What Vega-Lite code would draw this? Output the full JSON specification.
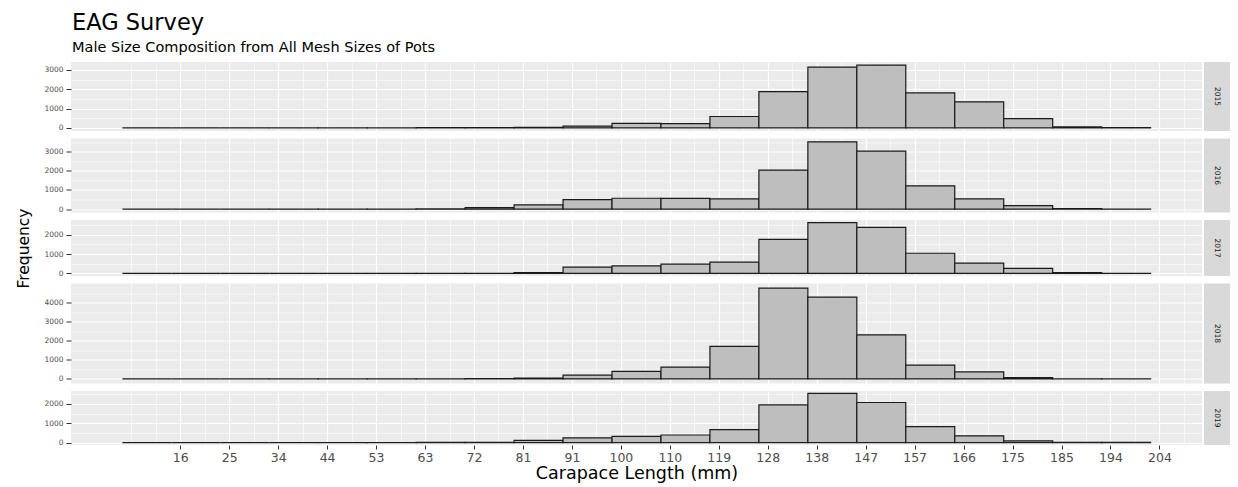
{
  "$schema": "https://vega.github.io/schema/vega-lite/v6.json",
  "padding": {"left": 16, "top": 12, "right": 4, "bottom": 2},
  "title": {
    "text": "EAG Survey",
    "subtitle": "Male Size Composition from All Mesh Sizes of Pots",
    "anchor": "start",
    "frame": "group",
    "font": "DejaVu Sans",
    "fontSize": 22.5,
    "fontWeight": "normal",
    "color": "#000000",
    "subtitleFont": "DejaVu Sans",
    "subtitleFontSize": 14.5,
    "subtitleColor": "#000000",
    "subtitlePadding": 6,
    "offset": 8,
    "dx": 1
  },
  "data": {"values": [
    {"year":2015,"bin_start":4.9,"bin_end":14.3,"n":0},{"year":2015,"bin_start":14.3,"bin_end":23.7,"n":0},{"year":2015,"bin_start":23.7,"bin_end":33.1,"n":0},{"year":2015,"bin_start":33.1,"bin_end":42.5,"n":2},{"year":2015,"bin_start":42.5,"bin_end":51.9,"n":3},{"year":2015,"bin_start":51.9,"bin_end":61.3,"n":5},{"year":2015,"bin_start":61.3,"bin_end":70.7,"n":10},{"year":2015,"bin_start":70.7,"bin_end":80.1,"n":20},{"year":2015,"bin_start":80.1,"bin_end":89.5,"n":30},{"year":2015,"bin_start":89.5,"bin_end":98.9,"n":90},{"year":2015,"bin_start":98.9,"bin_end":108.3,"n":230},{"year":2015,"bin_start":108.3,"bin_end":117.7,"n":220},{"year":2015,"bin_start":117.7,"bin_end":127.1,"n":590},{"year":2015,"bin_start":127.1,"bin_end":136.5,"n":1880},{"year":2015,"bin_start":136.5,"bin_end":145.9,"n":3150},{"year":2015,"bin_start":145.9,"bin_end":155.3,"n":3250},{"year":2015,"bin_start":155.3,"bin_end":164.7,"n":1810},{"year":2015,"bin_start":164.7,"bin_end":174.1,"n":1350},{"year":2015,"bin_start":174.1,"bin_end":183.5,"n":480},{"year":2015,"bin_start":183.5,"bin_end":192.9,"n":50},{"year":2015,"bin_start":192.9,"bin_end":202.3,"n":10},
    {"year":2016,"bin_start":4.9,"bin_end":14.3,"n":0},{"year":2016,"bin_start":14.3,"bin_end":23.7,"n":0},{"year":2016,"bin_start":23.7,"bin_end":33.1,"n":0},{"year":2016,"bin_start":33.1,"bin_end":42.5,"n":2},{"year":2016,"bin_start":42.5,"bin_end":51.9,"n":3},{"year":2016,"bin_start":51.9,"bin_end":61.3,"n":5},{"year":2016,"bin_start":61.3,"bin_end":70.7,"n":10},{"year":2016,"bin_start":70.7,"bin_end":80.1,"n":80},{"year":2016,"bin_start":80.1,"bin_end":89.5,"n":220},{"year":2016,"bin_start":89.5,"bin_end":98.9,"n":500},{"year":2016,"bin_start":98.9,"bin_end":108.3,"n":570},{"year":2016,"bin_start":108.3,"bin_end":117.7,"n":560},{"year":2016,"bin_start":117.7,"bin_end":127.1,"n":540},{"year":2016,"bin_start":127.1,"bin_end":136.5,"n":2040},{"year":2016,"bin_start":136.5,"bin_end":145.9,"n":3515},{"year":2016,"bin_start":145.9,"bin_end":155.3,"n":3030},{"year":2016,"bin_start":155.3,"bin_end":164.7,"n":1220},{"year":2016,"bin_start":164.7,"bin_end":174.1,"n":540},{"year":2016,"bin_start":174.1,"bin_end":183.5,"n":180},{"year":2016,"bin_start":183.5,"bin_end":192.9,"n":30},{"year":2016,"bin_start":192.9,"bin_end":202.3,"n":5},
    {"year":2017,"bin_start":4.9,"bin_end":14.3,"n":0},{"year":2017,"bin_start":14.3,"bin_end":23.7,"n":0},{"year":2017,"bin_start":23.7,"bin_end":33.1,"n":0},{"year":2017,"bin_start":33.1,"bin_end":42.5,"n":0},{"year":2017,"bin_start":42.5,"bin_end":51.9,"n":0},{"year":2017,"bin_start":51.9,"bin_end":61.3,"n":2},{"year":2017,"bin_start":61.3,"bin_end":70.7,"n":5},{"year":2017,"bin_start":70.7,"bin_end":80.1,"n":10},{"year":2017,"bin_start":80.1,"bin_end":89.5,"n":50},{"year":2017,"bin_start":89.5,"bin_end":98.9,"n":330},{"year":2017,"bin_start":98.9,"bin_end":108.3,"n":395},{"year":2017,"bin_start":108.3,"bin_end":117.7,"n":480},{"year":2017,"bin_start":117.7,"bin_end":127.1,"n":585},{"year":2017,"bin_start":127.1,"bin_end":136.5,"n":1765},{"year":2017,"bin_start":136.5,"bin_end":145.9,"n":2635},{"year":2017,"bin_start":145.9,"bin_end":155.3,"n":2380},{"year":2017,"bin_start":155.3,"bin_end":164.7,"n":1045},{"year":2017,"bin_start":164.7,"bin_end":174.1,"n":535},{"year":2017,"bin_start":174.1,"bin_end":183.5,"n":260},{"year":2017,"bin_start":183.5,"bin_end":192.9,"n":50},{"year":2017,"bin_start":192.9,"bin_end":202.3,"n":5},
    {"year":2018,"bin_start":4.9,"bin_end":14.3,"n":0},{"year":2018,"bin_start":14.3,"bin_end":23.7,"n":0},{"year":2018,"bin_start":23.7,"bin_end":33.1,"n":0},{"year":2018,"bin_start":33.1,"bin_end":42.5,"n":2},{"year":2018,"bin_start":42.5,"bin_end":51.9,"n":3},{"year":2018,"bin_start":51.9,"bin_end":61.3,"n":5},{"year":2018,"bin_start":61.3,"bin_end":70.7,"n":10},{"year":2018,"bin_start":70.7,"bin_end":80.1,"n":25},{"year":2018,"bin_start":80.1,"bin_end":89.5,"n":40},{"year":2018,"bin_start":89.5,"bin_end":98.9,"n":200},{"year":2018,"bin_start":98.9,"bin_end":108.3,"n":395},{"year":2018,"bin_start":108.3,"bin_end":117.7,"n":625},{"year":2018,"bin_start":117.7,"bin_end":127.1,"n":1705},{"year":2018,"bin_start":127.1,"bin_end":136.5,"n":4770},{"year":2018,"bin_start":136.5,"bin_end":145.9,"n":4290},{"year":2018,"bin_start":145.9,"bin_end":155.3,"n":2315},{"year":2018,"bin_start":155.3,"bin_end":164.7,"n":730},{"year":2018,"bin_start":164.7,"bin_end":174.1,"n":375},{"year":2018,"bin_start":174.1,"bin_end":183.5,"n":70},{"year":2018,"bin_start":183.5,"bin_end":192.9,"n":5},{"year":2018,"bin_start":192.9,"bin_end":202.3,"n":3},
    {"year":2019,"bin_start":4.9,"bin_end":14.3,"n":0},{"year":2019,"bin_start":14.3,"bin_end":23.7,"n":0},{"year":2019,"bin_start":23.7,"bin_end":33.1,"n":0},{"year":2019,"bin_start":33.1,"bin_end":42.5,"n":0},{"year":2019,"bin_start":42.5,"bin_end":51.9,"n":2},{"year":2019,"bin_start":51.9,"bin_end":61.3,"n":3},{"year":2019,"bin_start":61.3,"bin_end":70.7,"n":5},{"year":2019,"bin_start":70.7,"bin_end":80.1,"n":10},{"year":2019,"bin_start":80.1,"bin_end":89.5,"n":110},{"year":2019,"bin_start":89.5,"bin_end":98.9,"n":245},{"year":2019,"bin_start":98.9,"bin_end":108.3,"n":315},{"year":2019,"bin_start":108.3,"bin_end":117.7,"n":390},{"year":2019,"bin_start":117.7,"bin_end":127.1,"n":670},{"year":2019,"bin_start":127.1,"bin_end":136.5,"n":1950},{"year":2019,"bin_start":136.5,"bin_end":145.9,"n":2545},{"year":2019,"bin_start":145.9,"bin_end":155.3,"n":2075},{"year":2019,"bin_start":155.3,"bin_end":164.7,"n":825},{"year":2019,"bin_start":164.7,"bin_end":174.1,"n":350},{"year":2019,"bin_start":174.1,"bin_end":183.5,"n":90},{"year":2019,"bin_start":183.5,"bin_end":192.9,"n":10},{"year":2019,"bin_start":192.9,"bin_end":202.3,"n":5}
  ]},
  "hconcat": [
    {
      "spacing": 7.5,
      "bounds": "flush",
      "vconcat": [
        {
          "width": 1131, "height": 69,
          "view": {"fill": "#EBEBEB", "stroke": null},
          "transform": [{"filter": "datum.year == 2015"}],
          "layer": [
            {"mark": {"type": "bar", "opacity": 0},
             "encoding": {
               "x": {"field": "bin_start", "type": "quantitative", "scale": {"domain": [-4.97, 212.17], "nice": false, "zero": false},
                     "axis": {"orient": "bottom", "values": [6.6,11.3,20.7,30.1,39.5,48.9,58.3,67.7,77.1,86.5,95.9,105.3,114.7,124.1,133.5,142.9,152.3,161.7,171.1,180.5,189.9,199.3,208.7], "grid": true, "gridColor": "#FFFFFF", "gridWidth": 0.6, "labels": false, "ticks": false, "domain": false, "title": null}},
               "x2": {"field": "bin_end"},
               "y": {"field": "n", "type": "quantitative", "scale": {"domain": [-162.5, 3412.5], "nice": false, "zero": false},
                     "axis": {"orient": "left", "values": [500, 1500, 2500], "grid": true, "gridColor": "#FFFFFF", "gridWidth": 0.6, "labels": false, "ticks": false, "domain": false, "title": null}},
               "y2": {"datum": 0}}},
            {"mark": {"type": "bar", "fill": "#BEBEBE", "stroke": "#1A1A1A", "strokeWidth": 1.2},
             "encoding": {
               "x": {"field": "bin_start", "type": "quantitative",
                     "axis": {"orient": "bottom", "values": [16,25.4,34.8,44.2,53.6,63,72.4,81.8,91.2,100.6,110,119.4,128.8,138.2,147.6,157,166.4,175.8,185.2,194.6,204], "grid": true, "gridColor": "#FFFFFF", "gridWidth": 1.2, "labels": false, "ticks": false, "domain": false, "title": null}},
               "x2": {"field": "bin_end"},
               "y": {"field": "n", "type": "quantitative",
                     "axis": {"orient": "left", "values": [0, 1000, 2000, 3000], "format": "d", "grid": true, "gridColor": "#FFFFFF", "gridWidth": 1.2, "labelFont": "DejaVu Sans", "labelFontSize": 7.5, "labelColor": "#4D4D4D", "tickColor": "#333333", "tickSize": 5, "labelPadding": 3, "domain": false, "title": null}},
               "y2": {"datum": 0}}}
          ],
          "resolve": {"axis": {"x": "independent", "y": "independent"}}
        },
        {
          "width": 1131, "height": 74,
          "view": {"fill": "#EBEBEB", "stroke": null},
          "transform": [{"filter": "datum.year == 2016"}],
          "layer": [
            {"mark": {"type": "bar", "opacity": 0},
             "encoding": {
               "x": {"field": "bin_start", "type": "quantitative", "scale": {"domain": [-4.97, 212.17], "nice": false, "zero": false},
                     "axis": {"orient": "bottom", "values": [6.6,11.3,20.7,30.1,39.5,48.9,58.3,67.7,77.1,86.5,95.9,105.3,114.7,124.1,133.5,142.9,152.3,161.7,171.1,180.5,189.9,199.3,208.7], "grid": true, "gridColor": "#FFFFFF", "gridWidth": 0.6, "labels": false, "ticks": false, "domain": false, "title": null}},
               "x2": {"field": "bin_end"},
               "y": {"field": "n", "type": "quantitative", "scale": {"domain": [-175.75, 3690.75], "nice": false, "zero": false},
                     "axis": {"orient": "left", "values": [500, 1500, 2500, 3500], "grid": true, "gridColor": "#FFFFFF", "gridWidth": 0.6, "labels": false, "ticks": false, "domain": false, "title": null}},
               "y2": {"datum": 0}}},
            {"mark": {"type": "bar", "fill": "#BEBEBE", "stroke": "#1A1A1A", "strokeWidth": 1.2},
             "encoding": {
               "x": {"field": "bin_start", "type": "quantitative",
                     "axis": {"orient": "bottom", "values": [16,25.4,34.8,44.2,53.6,63,72.4,81.8,91.2,100.6,110,119.4,128.8,138.2,147.6,157,166.4,175.8,185.2,194.6,204], "grid": true, "gridColor": "#FFFFFF", "gridWidth": 1.2, "labels": false, "ticks": false, "domain": false, "title": null}},
               "x2": {"field": "bin_end"},
               "y": {"field": "n", "type": "quantitative",
                     "axis": {"orient": "left", "values": [0, 1000, 2000, 3000], "format": "d", "grid": true, "gridColor": "#FFFFFF", "gridWidth": 1.2, "labelFont": "DejaVu Sans", "labelFontSize": 7.5, "labelColor": "#4D4D4D", "tickColor": "#333333", "tickSize": 5, "labelPadding": 3, "domain": false, "title": null}},
               "y2": {"datum": 0}}}
          ],
          "resolve": {"axis": {"x": "independent", "y": "independent"}}
        },
        {
          "width": 1131, "height": 56,
          "view": {"fill": "#EBEBEB", "stroke": null},
          "transform": [{"filter": "datum.year == 2017"}],
          "layer": [
            {"mark": {"type": "bar", "opacity": 0},
             "encoding": {
               "x": {"field": "bin_start", "type": "quantitative", "scale": {"domain": [-4.97, 212.17], "nice": false, "zero": false},
                     "axis": {"orient": "bottom", "values": [6.6,11.3,20.7,30.1,39.5,48.9,58.3,67.7,77.1,86.5,95.9,105.3,114.7,124.1,133.5,142.9,152.3,161.7,171.1,180.5,189.9,199.3,208.7], "grid": true, "gridColor": "#FFFFFF", "gridWidth": 0.6, "labels": false, "ticks": false, "domain": false, "title": null}},
               "x2": {"field": "bin_end"},
               "y": {"field": "n", "type": "quantitative", "scale": {"domain": [-131.75, 2766.75], "nice": false, "zero": false},
                     "axis": {"orient": "left", "values": [500, 1500, 2500], "grid": true, "gridColor": "#FFFFFF", "gridWidth": 0.6, "labels": false, "ticks": false, "domain": false, "title": null}},
               "y2": {"datum": 0}}},
            {"mark": {"type": "bar", "fill": "#BEBEBE", "stroke": "#1A1A1A", "strokeWidth": 1.2},
             "encoding": {
               "x": {"field": "bin_start", "type": "quantitative",
                     "axis": {"orient": "bottom", "values": [16,25.4,34.8,44.2,53.6,63,72.4,81.8,91.2,100.6,110,119.4,128.8,138.2,147.6,157,166.4,175.8,185.2,194.6,204], "grid": true, "gridColor": "#FFFFFF", "gridWidth": 1.2, "labels": false, "ticks": false, "domain": false, "title": null}},
               "x2": {"field": "bin_end"},
               "y": {"field": "n", "type": "quantitative",
                     "axis": {"orient": "left", "values": [0, 1000, 2000], "format": "d", "grid": true, "gridColor": "#FFFFFF", "gridWidth": 1.2, "labelFont": "DejaVu Sans", "labelFontSize": 7.5, "labelColor": "#4D4D4D", "tickColor": "#333333", "tickSize": 5, "labelPadding": 3, "domain": false,
                              "title": "Frequency", "titleFont": "DejaVu Sans", "titleFontSize": 15.5, "titleFontWeight": "normal", "titleColor": "#000000", "titlePadding": 12}},
               "y2": {"datum": 0}}}
          ],
          "resolve": {"axis": {"x": "independent", "y": "independent"}}
        },
        {
          "width": 1131, "height": 100,
          "view": {"fill": "#EBEBEB", "stroke": null},
          "transform": [{"filter": "datum.year == 2018"}],
          "layer": [
            {"mark": {"type": "bar", "opacity": 0},
             "encoding": {
               "x": {"field": "bin_start", "type": "quantitative", "scale": {"domain": [-4.97, 212.17], "nice": false, "zero": false},
                     "axis": {"orient": "bottom", "values": [6.6,11.3,20.7,30.1,39.5,48.9,58.3,67.7,77.1,86.5,95.9,105.3,114.7,124.1,133.5,142.9,152.3,161.7,171.1,180.5,189.9,199.3,208.7], "grid": true, "gridColor": "#FFFFFF", "gridWidth": 0.6, "labels": false, "ticks": false, "domain": false, "title": null}},
               "x2": {"field": "bin_end"},
               "y": {"field": "n", "type": "quantitative", "scale": {"domain": [-238.5, 5008.5], "nice": false, "zero": false},
                     "axis": {"orient": "left", "values": [500, 1500, 2500, 3500, 4500], "grid": true, "gridColor": "#FFFFFF", "gridWidth": 0.6, "labels": false, "ticks": false, "domain": false, "title": null}},
               "y2": {"datum": 0}}},
            {"mark": {"type": "bar", "fill": "#BEBEBE", "stroke": "#1A1A1A", "strokeWidth": 1.2},
             "encoding": {
               "x": {"field": "bin_start", "type": "quantitative",
                     "axis": {"orient": "bottom", "values": [16,25.4,34.8,44.2,53.6,63,72.4,81.8,91.2,100.6,110,119.4,128.8,138.2,147.6,157,166.4,175.8,185.2,194.6,204], "grid": true, "gridColor": "#FFFFFF", "gridWidth": 1.2, "labels": false, "ticks": false, "domain": false, "title": null}},
               "x2": {"field": "bin_end"},
               "y": {"field": "n", "type": "quantitative",
                     "axis": {"orient": "left", "values": [0, 1000, 2000, 3000, 4000], "format": "d", "grid": true, "gridColor": "#FFFFFF", "gridWidth": 1.2, "labelFont": "DejaVu Sans", "labelFontSize": 7.5, "labelColor": "#4D4D4D", "tickColor": "#333333", "tickSize": 5, "labelPadding": 3, "domain": false, "title": null}},
               "y2": {"datum": 0}}}
          ],
          "resolve": {"axis": {"x": "independent", "y": "independent"}}
        },
        {
          "width": 1131, "height": 54,
          "view": {"fill": "#EBEBEB", "stroke": null},
          "transform": [{"filter": "datum.year == 2019"}],
          "layer": [
            {"mark": {"type": "bar", "opacity": 0},
             "encoding": {
               "x": {"field": "bin_start", "type": "quantitative", "scale": {"domain": [-4.97, 212.17], "nice": false, "zero": false},
                     "axis": {"orient": "bottom", "values": [6.6,11.3,20.7,30.1,39.5,48.9,58.3,67.7,77.1,86.5,95.9,105.3,114.7,124.1,133.5,142.9,152.3,161.7,171.1,180.5,189.9,199.3,208.7], "grid": true, "gridColor": "#FFFFFF", "gridWidth": 0.6, "labels": false, "ticks": false, "domain": false, "title": null}},
               "x2": {"field": "bin_end"},
               "y": {"field": "n", "type": "quantitative", "scale": {"domain": [-127.25, 2672.25], "nice": false, "zero": false},
                     "axis": {"orient": "left", "values": [500, 1500, 2500], "grid": true, "gridColor": "#FFFFFF", "gridWidth": 0.6, "labels": false, "ticks": false, "domain": false, "title": null}},
               "y2": {"datum": 0}}},
            {"mark": {"type": "bar", "fill": "#BEBEBE", "stroke": "#1A1A1A", "strokeWidth": 1.2},
             "encoding": {
               "x": {"field": "bin_start", "type": "quantitative",
                     "axis": {"orient": "bottom", "values": [16,25.4,34.8,44.2,53.6,63,72.4,81.8,91.2,100.6,110,119.4,128.8,138.2,147.6,157,166.4,175.8,185.2,194.6,204], "labelExpr": "floor(datum.value)", "grid": true, "gridColor": "#FFFFFF", "gridWidth": 1.2, "labelFont": "DejaVu Sans", "labelFontSize": 12.5, "labelColor": "#4D4D4D", "tickColor": "#333333", "tickSize": 4, "labelPadding": 2, "domain": false,
                              "title": "Carapace Length (mm)", "titleFont": "DejaVu Sans", "titleFontSize": 17.5, "titleFontWeight": "normal", "titleColor": "#000000", "titlePadding": 1}},
               "x2": {"field": "bin_end"},
               "y": {"field": "n", "type": "quantitative",
                     "axis": {"orient": "left", "values": [0, 1000, 2000], "format": "d", "grid": true, "gridColor": "#FFFFFF", "gridWidth": 1.2, "labelFont": "DejaVu Sans", "labelFontSize": 7.5, "labelColor": "#4D4D4D", "tickColor": "#333333", "tickSize": 5, "labelPadding": 3, "domain": false, "title": null}},
               "y2": {"datum": 0}}}
          ],
          "resolve": {"axis": {"x": "independent", "y": "independent"}}
        }
      ]
    },
    {
      "spacing": 7.5,
      "bounds": "flush",
      "vconcat": [
        {"width": 26, "height": 69, "view": {"fill": "#D9D9D9", "stroke": null},
         "transform": [{"filter": "datum.year == 2015"}, {"aggregate": [{"op": "count", "as": "c"}], "groupby": ["year"]}],
         "mark": {"type": "text", "angle": 90, "font": "DejaVu Sans", "fontSize": 7.5, "color": "#1A1A1A"},
         "encoding": {"text": {"field": "year", "type": "nominal"}}},
        {"width": 26, "height": 74, "view": {"fill": "#D9D9D9", "stroke": null},
         "transform": [{"filter": "datum.year == 2016"}, {"aggregate": [{"op": "count", "as": "c"}], "groupby": ["year"]}],
         "mark": {"type": "text", "angle": 90, "font": "DejaVu Sans", "fontSize": 7.5, "color": "#1A1A1A"},
         "encoding": {"text": {"field": "year", "type": "nominal"}}},
        {"width": 26, "height": 56, "view": {"fill": "#D9D9D9", "stroke": null},
         "transform": [{"filter": "datum.year == 2017"}, {"aggregate": [{"op": "count", "as": "c"}], "groupby": ["year"]}],
         "mark": {"type": "text", "angle": 90, "font": "DejaVu Sans", "fontSize": 7.5, "color": "#1A1A1A"},
         "encoding": {"text": {"field": "year", "type": "nominal"}}},
        {"width": 26, "height": 100, "view": {"fill": "#D9D9D9", "stroke": null},
         "transform": [{"filter": "datum.year == 2018"}, {"aggregate": [{"op": "count", "as": "c"}], "groupby": ["year"]}],
         "mark": {"type": "text", "angle": 90, "font": "DejaVu Sans", "fontSize": 7.5, "color": "#1A1A1A"},
         "encoding": {"text": {"field": "year", "type": "nominal"}}},
        {"width": 26, "height": 54, "view": {"fill": "#D9D9D9", "stroke": null},
         "transform": [{"filter": "datum.year == 2019"}, {"aggregate": [{"op": "count", "as": "c"}], "groupby": ["year"]}],
         "mark": {"type": "text", "angle": 90, "font": "DejaVu Sans", "fontSize": 7.5, "color": "#1A1A1A"},
         "encoding": {"text": {"field": "year", "type": "nominal"}}}
      ]
    }
  ],
  "spacing": 2,
  "config": {
    "font": "DejaVu Sans",
    "axis": {"labelFlush": false, "labelOverlap": false},
    "background": "#FFFFFF"
  }
}
